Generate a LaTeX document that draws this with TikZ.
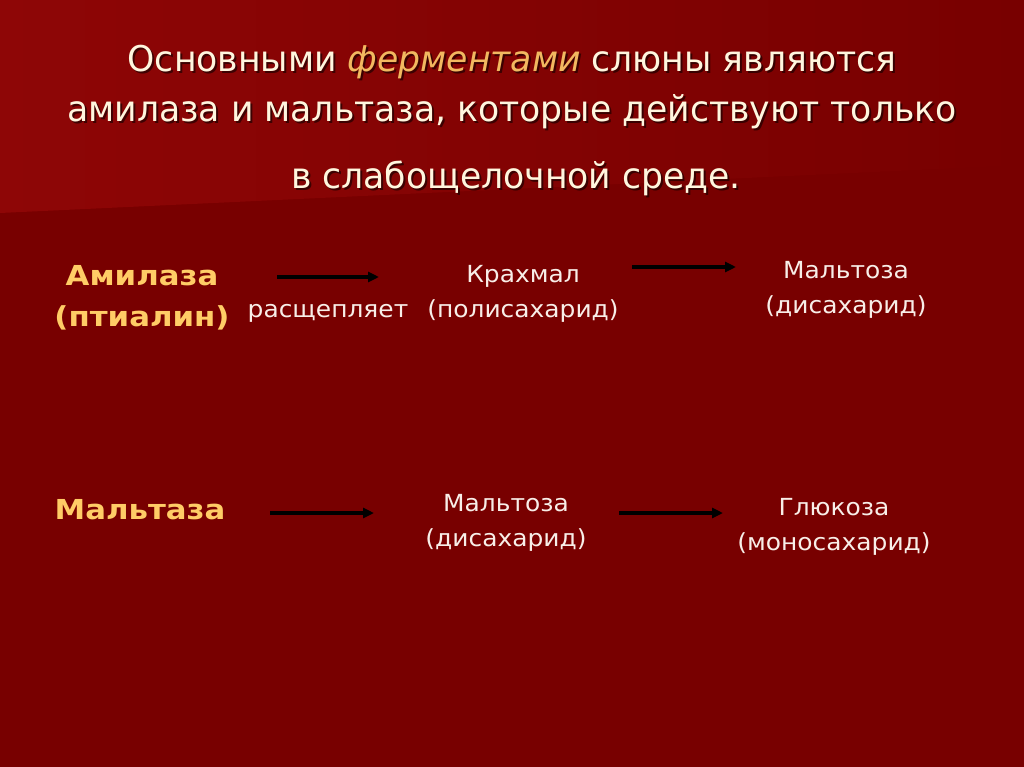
\documentclass[tikz,border=0pt]{standalone}
\usepackage{fontspec}
\usetikzlibrary{arrows.meta}
\setmainfont{DejaVu Sans}
\newfontfamily\headfont[FakeStretch=0.975]{DejaVu Sans}
\newfontfamily\bodyfont[FakeStretch=1.06]{DejaVu Sans}
\newfontfamily\enzymefont[FakeStretch=1.12]{DejaVu Sans Bold}

\definecolor{slidebg}{RGB}{120,0,0}
\definecolor{slidetop}{RGB}{142,6,6}
\definecolor{headtext}{RGB}{255,246,222}
\definecolor{fermtext}{RGB}{242,184,96}
\definecolor{enzymetext}{RGB}{255,204,102}
\definecolor{bodytext}{RGB}{248,238,232}

\tikzset{
  headline/.style={text=headtext, font=\headfont\fontsize{35.5}{42}\selectfont, inner sep=0pt},
  headshadow/.style={text=black, opacity=0.55, font=\headfont\fontsize{35.5}{42}\selectfont, inner sep=0pt},
  enzyme/.style={text=enzymetext, align=center, font=\enzymefont\fontsize{27.5}{41}\selectfont, inner sep=0pt},
  substance/.style={text=bodytext, align=center, font=\bodyfont\fontsize{23.5}{35}\selectfont, inner sep=0pt},
  flow/.style={-{Triangle[length=11pt,width=10pt]}, line width=3.2pt, black}
}

\begin{document}
\begin{tikzpicture}[x=1pt,y=-1pt]
\useasboundingbox (0,0) rectangle (1024,767);
% background
\fill[slidebg] (0,0) rectangle (1024,767);
\shade[left color=slidetop, right color=slidebg] (0,0) -- (1024,0) -- (1024,165) -- (0,213) -- cycle;

% heading
\node[headshadow] (t1s) at (514,64) {Основными {\itshape ферментами} слюны являются};
\node[headline] (t1) at (512,62) {Основными {\itshape\color{fermtext}ферментами} слюны являются};
\node[headshadow] (t2s) at (514,114) {амилаза и мальтаза, которые действуют только};
\node[headline] (t2) at (512,112) {амилаза и мальтаза, которые действуют только};
\node[headshadow] (t3s) at (518,180) {в слабощелочной среде.};
\node[headline] (t3) at (516,178) {в слабощелочной среде.};

% amylase row
\node[enzyme] (amyl) at (142,297.5) {Амилаза\\(птиалин)};
\node[substance] (split) at (328,313) {расщепляет};
\node[substance] (starch) at (523,293.5) {Крахмал\\(полисахарид)};
\node[substance] (malt1) at (846,289.5) {Мальтоза\\(дисахарид)};
\coordinate (a1s) at (277,277);
\coordinate (a1e) at (379,277);
\coordinate (a2s) at (632,267);
\coordinate (a2e) at (736,267);
\draw[flow] (a1s) -- (a1e);
\draw[flow] (a2s) -- (a2e);

% maltase row
\node[enzyme] (maltase) at (140,510) {Мальтаза};
\node[substance] (malt2) at (506,523) {Мальтоза\\(дисахарид)};
\node[substance] (gluc) at (834,527) {Глюкоза\\(моносахарид)};
\coordinate (a3s) at (270,513);
\coordinate (a3e) at (374,513);
\coordinate (a4s) at (619,513);
\coordinate (a4e) at (723,513);
\draw[flow] (a3s) -- (a3e);
\draw[flow] (a4s) -- (a4e);
\end{tikzpicture}
\end{document}
